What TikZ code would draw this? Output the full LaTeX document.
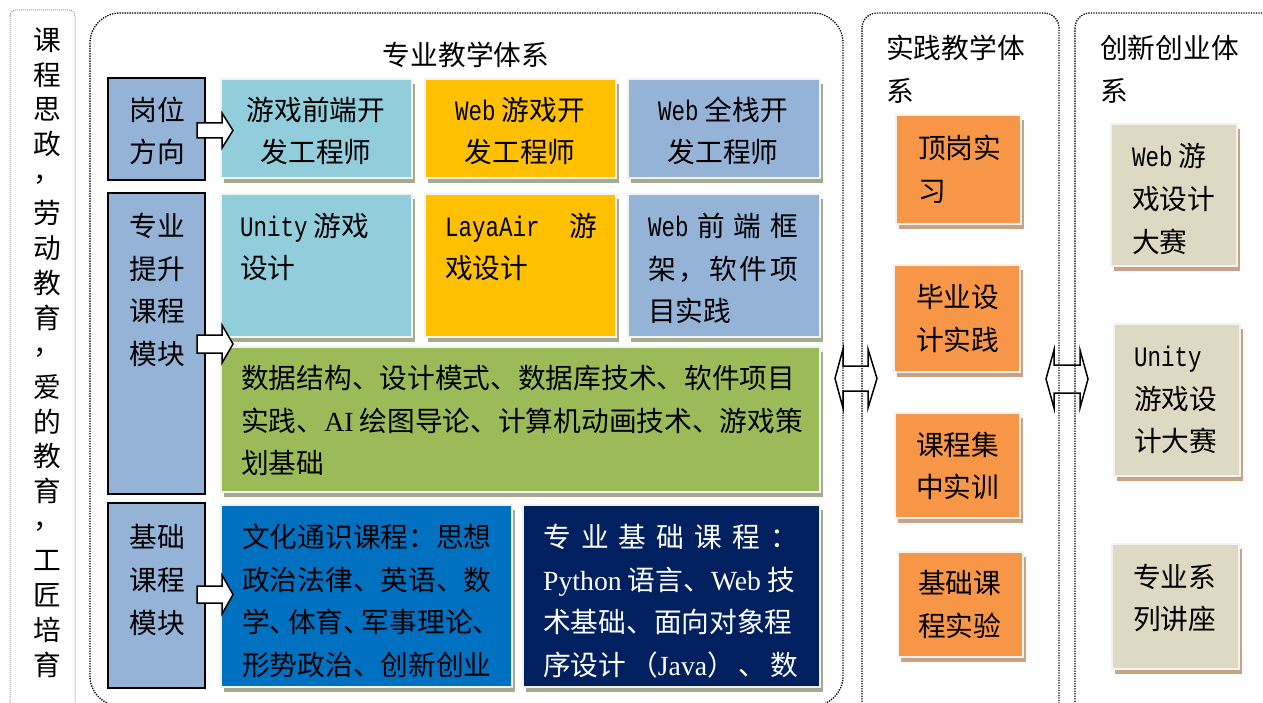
\documentclass[tikz,border=0pt]{standalone}
\usepackage{fontspec}
\setmainfont{Noto Sans CJK SC}
\newfontfamily\lmonofam{Liberation Mono}
\newfontfamily\lseriffam{Liberation Serif}
\usetikzlibrary{shadows,fit}
\newcommand{\monow}[1]{{\lmonofam\fontsize{22.5}{22.5}\selectfont\scalebox{1}[1.25]{#1}}}
\newcommand{\tnr}[1]{{\lseriffam #1}}
\newcommand{\bodyfnt}{\fontsize{27.7}{42.6}\selectfont}
\newcommand{\vcomma}{\raisebox{8pt}{，}}
\newcommand{\dun}{、\kern-9.4pt}
\definecolor{cSide}{HTML}{95B3D7}
\definecolor{cLB}{HTML}{92CDDC}
\definecolor{cGold}{HTML}{FFC000}
\definecolor{cGreen}{HTML}{9BBB59}
\definecolor{cBlue}{HTML}{0070C0}
\definecolor{cNavy}{HTML}{002060}
\definecolor{cOrange}{HTML}{F79646}
\definecolor{cBeige}{HTML}{DDD9C3}
\definecolor{cShO}{RGB}{166,170,142}
\definecolor{cShT}{RGB}{201,161,132}
\definecolor{cEdge}{HTML}{F2F2F2}
\tikzset{
  frame/.style={draw=black, line width=1.3pt, dash pattern=on 1.3pt off 1.2pt},
  sideframe/.style={draw=gray!80, line width=1pt, dash pattern=on 1pt off 1pt},
  lbox/.style={draw=black, line width=1.8pt, fill=cSide, inner sep=0},
  cbox/.style={draw=cEdge, line width=2.2pt, inner sep=0},
  osh/.style={drop shadow={shadow xshift=3pt,shadow yshift=-5pt,fill=cShO,opacity=1}},
  tsh/.style={drop shadow={shadow xshift=3pt,shadow yshift=-5pt,fill=cShT,opacity=1}},
  txt/.style={inner sep=0, font=\bodyfnt, align=left, anchor=west},
  ctxt/.style={inner sep=0, font=\bodyfnt, align=center, anchor=center},
  barrow/.style={draw=black, fill=white, line width=1.5pt, line join=miter},
}
\begin{document}
\begin{tikzpicture}[x=1pt,y=-1pt]
\useasboundingbox (0,0) rectangle (1263,703);
\clip (0,0) rectangle (1263,703);
\fill[white] (0,0) rectangle (1263,703);

% double arrows between the systems
\draw[barrow] (835,378.5) -- (843,349) -- (843,366) -- (868,366) -- (868,349) -- (877,378.5)
  -- (868,408) -- (868,391) -- (843,391) -- (843,408) -- cycle;
\draw[barrow] (1046,379) -- (1054,350) -- (1054,365) -- (1080,365) -- (1080,350) -- (1088,379)
  -- (1080,408) -- (1080,393) -- (1054,393) -- (1054,408) -- cycle;

% frames
\draw[sideframe, rounded corners=6pt] (10,10) rectangle (75,740);
\draw[frame, rounded corners=30pt] (90,13) rectangle (843,706);
\draw[frame, rounded corners=15pt] (862,13) rectangle (1059,740);
\draw[frame, rounded corners=15pt] (1075,13) rectangle (1300,740);

% side text
\node[inner sep=0, font=\fontsize{27.7}{34.7}\selectfont, align=center] (side) at (47,352.5)
 {课\\程\\思\\政\\\vcomma\\劳\\动\\教\\育\\\vcomma\\爱\\的\\教\\育\\\vcomma\\工\\匠\\培\\育};

% titles
\node[ctxt] (t1) at (466,55) {专业教学体系};
\node[txt] (t2) at (886,69) {实践教学体\\系};
\node[txt] (t3) at (1100,69) {创新创业体\\系};

% left category boxes
\node[lbox, fit={(108,78)(205,180)}] (L1) {};
\node[lbox, fit={(108,193)(205,494)}] (L2) {};
\node[lbox, fit={(108,503)(205,688)}] (L3) {};
\node[ctxt] (L1t) at (157,131) {岗位\\方向};
\node[ctxt] (L2t) at (157,290) {专业\\提升\\课程\\模块};
\node[ctxt] (L3t) at (157,580) {基础\\课程\\模块};

% content boxes
\node[cbox, osh, fill=cLB,   fit={(221,79)(412,178)}] (a1) {};
\node[cbox, osh, fill=cGold, fit={(425,79)(616,178)}] (a2) {};
\node[cbox, osh, fill=cSide, fit={(628,79)(820,178)}] (a3) {};
\node[cbox, osh, fill=cLB,   fit={(221,194)(412,337)}] (b1) {};
\node[cbox, osh, fill=cGold, fit={(425,194)(616,337)}] (b2) {};
\node[cbox, osh, fill=cSide, fit={(628,194)(820,337)}] (b3) {};
\node[cbox, osh, fill=cGreen, fit={(221,347)(820,492)}] (c) {};
\node[cbox, osh, fill=cBlue, fit={(221,505)(512,687)}] (d1) {};
\node[cbox, osh, fill=cNavy, fit={(523,505)(820,687)}] (d2) {};

\node[ctxt] (a1t) at (316,131) {游戏前端开\\发工程师};
\node[ctxt] (a2t) at (520,131) {\monow{Web} 游戏开\\发工程师};
\node[ctxt] (a3t) at (723,131) {\monow{Web} 全栈开\\发工程师};
\node[txt] (b1t) at (240,247) {\monow{Unity} 游戏\\设计};
\node[txt] (b2t) at (445,247) {\monow{LayaAir}\hspace{30pt}游\\戏设计};
\node[txt] (b3t) at (648,268.5) {\makebox[150pt][l]{\monow{Web}\hfill 前\hfill 端\hfill 框}\\
  \makebox[150pt][l]{架\hfill ，\hfill 软\hfill 件\hfill 项}\\目实践};
\node[txt] (ct) at (241,420.5) {数据结构、设计模式、数据库技术、软件项目\\
  实践、\tnr{AI} 绘图导论、计算机动画技术、游戏策\\划基础};
\node[txt] (d1t) at (242,601) {文化通识课程：思想\\政治法律、英语、数\\
  学\dun 体育\dun 军事理论\dun\\形势政治、创新创业};
\node[txt, text=white] (d2t) at (543,601)
 {\makebox[255pt][l]{专\hfill 业\hfill 基\hfill 础\hfill 课\hfill 程\hfill ：}\\
  \makebox[255pt][l]{\tnr{Python} 语言、\tnr{Web} 技}\\
  术基础、面向对象程\\
  \makebox[255pt][l]{序设计\hfill （\tnr{Java}）\hfill 、\hfill 数}};

% practice boxes
\node[cbox, tsh, fill=cOrange, fit={(896,115)(1021,224)}] (p1) {};
\node[cbox, tsh, fill=cOrange, fit={(894,265)(1020,372)}] (p2) {};
\node[cbox, tsh, fill=cOrange, fit={(895,413)(1020,518)}] (p3) {};
\node[cbox, tsh, fill=cOrange, fit={(898,552)(1023,657)}] (p4) {};
\node[txt] (p1t) at (918,169) {顶岗实\\习};
\node[txt] (p2t) at (916,318.5) {毕业设\\计实践};
\node[txt] (p3t) at (916,466) {课程集\\中实训};
\node[txt] (p4t) at (918,604.5) {基础课\\程实验};

% innovation boxes
\node[cbox, tsh, fill=cBeige, fit={(1111,124)(1237,266)}] (i1) {};
\node[cbox, tsh, fill=cBeige, fit={(1114,324)(1240,476)}] (i2) {};
\node[cbox, tsh, fill=cBeige, fit={(1112,544)(1239,669)}] (i3) {};
\node[txt] (i1t) at (1132,199) {\monow{Web} 游\\戏设计\\大赛};
\node[txt] (i2t) at (1134,400) {\monow{Unity}\\游戏设\\计大赛};
\node[txt] (i3t) at (1133,598) {专业系\\列讲座};

% block arrows from category boxes
\draw[barrow] (197,123) -- (222,123) -- (222,113) -- (233,130.5) -- (222,148) -- (222,138) -- (197,138) -- cycle;
\draw[barrow] (197,335) -- (222,335) -- (222,325) -- (233,344) -- (222,363) -- (222,353) -- (197,353) -- cycle;
\draw[barrow] (197,586) -- (222,586) -- (222,575) -- (233,594.5) -- (222,614) -- (222,603) -- (197,603) -- cycle;
\end{tikzpicture}
\end{document}
